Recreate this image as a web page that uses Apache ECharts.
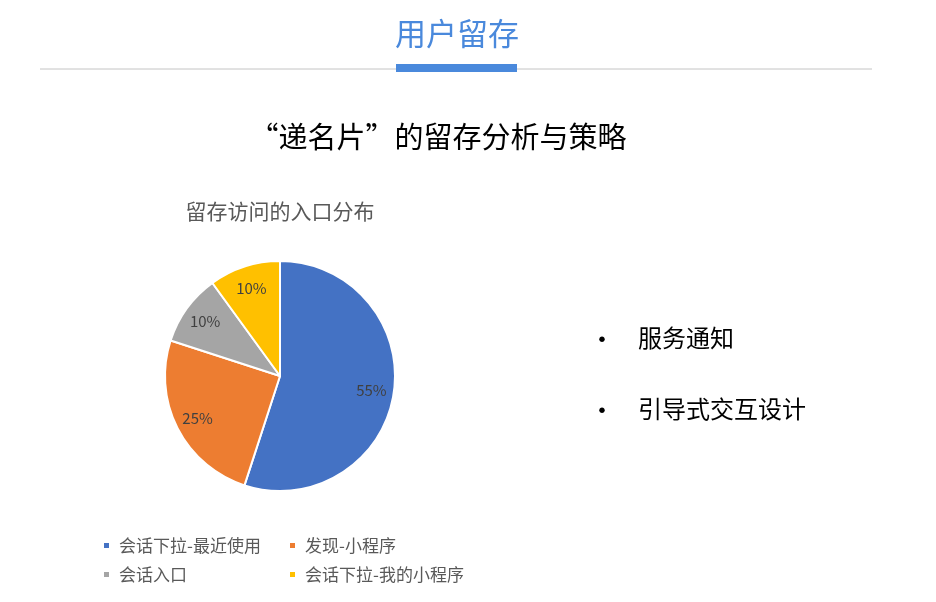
<!DOCTYPE html>
<html>
<head>
<meta charset="utf-8">
<script src="https://cdn.jsdelivr.net/npm/echarts@6/dist/echarts.min.js"></script>
<style>
  html, body { margin: 0; padding: 0; background: #fff; }
  #main { width: 936px; height: 602px; }
</style>
</head>
<body>
<div id="main"></div>
<script>
const FONT = '"Noto Sans CJK SC", "Noto Sans", sans-serif'

// 入口分布
const categories = ['会话下拉-最近使用', '发现-小程序', '会话入口', '会话下拉-我的小程序']
const values = [55, 25, 10, 10]
const colors = ['#4472C4', '#ED7D31', '#A5A5A5', '#FFC000']
const bullets = ['服务通知', '引导式交互设计']

const pieData = categories.map((name, i) => ({
  name,
  value: values[i],
  itemStyle: { color: colors[i] }
}))

const chart = echarts.init(document.getElementById('main'))

const legendText = { fontSize: 17, color: '#595959', fontFamily: FONT, lineHeight: 17, padding: [0, 0, 0, 4] }

const option = {
  backgroundColor: '#fff',
  animation: false,
  textStyle: { fontFamily: FONT },
  legend: [
    {
      // 左列
      orient: 'vertical',
      left: 97,
      top: 532,
      icon: 'rect',
      itemWidth: 7,
      itemHeight: 7,
      itemGap: 12,
      data: [categories[0], categories[2]],
      textStyle: legendText
    },
    {
      // 右列
      orient: 'vertical',
      left: 283,
      top: 532,
      icon: 'rect',
      itemWidth: 7,
      itemHeight: 7,
      itemGap: 12,
      data: [categories[1], categories[3]],
      textStyle: legendText
    }
  ],
  graphic: [
    {
      type: 'text',
      style: {
        x: 457, y: 33,
        text: '用户留存',
        fill: '#4A89DC',
        font: '31px ' + FONT,
        textAlign: 'center',
        textVerticalAlign: 'middle'
      }
    },
    {
      type: 'line',
      shape: { x1: 40, y1: 69, x2: 872, y2: 69 },
      style: { stroke: '#c4c4c4', lineWidth: 1 }
    },
    {
      type: 'rect',
      shape: { x: 396, y: 64, width: 121, height: 8 },
      style: { fill: '#4A89DC' }
    },
    {
      type: 'text',
      style: {
        x: 438, y: 137,
        text: '“递名片”的留存分析与策略',
        fill: '#000',
        font: '29px ' + FONT,
        textAlign: 'center',
        textVerticalAlign: 'middle'
      }
    },
    {
      type: 'text',
      style: {
        x: 280, y: 211,
        text: '留存访问的入口分布',
        fill: '#595959',
        font: '21px ' + FONT,
        textAlign: 'center',
        textVerticalAlign: 'middle'
      }
    },
    ...bullets.flatMap((t, i) => [
      {
        type: 'text',
        style: {
          x: 602, y: 339 + i * 71,
          text: '•',
          fill: '#000',
          font: '26px ' + FONT,
          textAlign: 'center',
          textVerticalAlign: 'middle'
        }
      },
      {
        type: 'text',
        style: {
          x: 638, y: 338 + i * 71,
          text: t,
          fill: '#000',
          font: '24px ' + FONT,
          textAlign: 'left',
          textVerticalAlign: 'middle'
        }
      }
    ])
  ],
  series: [
    {
      type: 'pie',
      center: [280, 376],
      radius: [0, 115],
      startAngle: 90,
      clockwise: true,
      label: { show: false },
      labelLine: { show: false },
      itemStyle: { borderColor: '#fff', borderWidth: 2 },
      emphasis: { disabled: true },
      data: pieData
    },
    {
      // 只负责标签位置
      type: 'pie',
      center: [280, 376],
      radius: [64, 115],
      startAngle: 90,
      clockwise: true,
      silent: true,
      legendHoverLink: false,
      itemStyle: { color: 'transparent', borderWidth: 0 },
      label: {
        show: true,
        position: 'inside',
        formatter: '{c}%',
        fontSize: 15,
        color: '#404040',
        fontFamily: FONT
      },
      labelLine: { show: false },
      emphasis: { disabled: true },
      data: categories.map((name, i) => ({ name: name + ' ', value: values[i] }))
    }
  ]
}

chart.setOption(option)
</script>
</body>
</html>
